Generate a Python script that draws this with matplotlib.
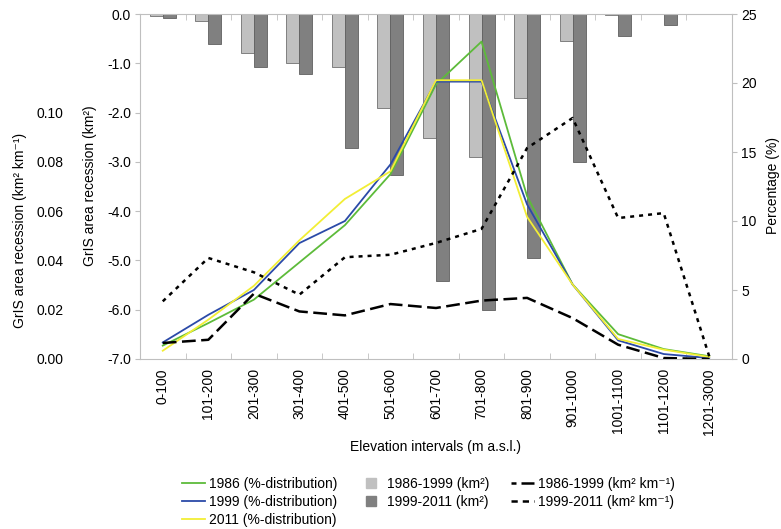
import numpy as np
import matplotlib
matplotlib.use('Agg')
import matplotlib.pyplot as plt
from matplotlib.lines import Line2D
from matplotlib.ticker import FormatStrFormatter

plt.rcParams['font.family'] = ['Liberation Sans', 'DejaVu Sans']
plt.rcParams['font.size'] = 10

# elevation intervals
cats = ['0-100', '101-200', '201-300', '301-400', '401-500', '501-600', '601-700',
        '701-800', '801-900', '901-1000', '1001-1100', '1101-1200', '1201-3000']

# area recession per interval (km2), left axis
rec_86_99 = [-0.05, -0.15, -0.80, -0.99, -1.08, -1.91, -2.52, -2.91, -1.70, -0.55, -0.03, 0.0, 0.0]
rec_99_11 = [-0.08, -0.60, -1.08, -1.22, -2.72, -3.26, -5.41, -6.00, -4.95, -3.01, -0.44, -0.22, 0.0]

# %-distribution of glacier area, right axis
pct_1986 = [0.97, 2.6, 4.3, 7.0, 9.7, 13.4, 19.9, 23.0, 11.8, 5.4, 1.8, 0.72, 0.2]
pct_1999 = [1.2, 3.2, 5.0, 8.4, 10.0, 14.1, 20.1, 20.1, 11.2, 5.4, 1.35, 0.36, 0.07]
pct_2011 = [0.6, 2.85, 5.3, 8.6, 11.6, 13.6, 20.2, 20.2, 10.3, 5.4, 1.45, 0.68, 0.15]

# recession per km of ice margin (km2 km-1), far left axis
rate_86_99 = [0.0065, 0.0078, 0.0265, 0.0193, 0.0177, 0.0223, 0.0207, 0.0237, 0.0248, 0.0166, 0.0058, 0.0004, 0.0]
rate_99_11 = [0.0234, 0.041, 0.0352, 0.0261, 0.0413, 0.0423, 0.0471, 0.0528, 0.0856, 0.0978, 0.0572, 0.0592, 0.0011]

W, H = 781, 529
fig = plt.figure(figsize=(W / 100, H / 100), dpi=100)
ax = fig.add_axes([140 / W, 1 - 359 / H, 592 / W, 345 / H])

x = np.arange(len(cats))
spine_col = '#bfbfbf'
bw = 0.285

ax.bar(x - bw / 2, rec_86_99, bw, color='#c0c0c0', edgecolor='#707070', linewidth=0.6)
ax.bar(x + bw / 2, rec_99_11, bw, color='#808080', edgecolor='#606060', linewidth=0.6)
ax.set_ylim(-7, 0)
ax.set_xlim(-0.5, len(cats) - 0.5)
ax.set_yticks(np.arange(-7, 0.1, 1))
ax.yaxis.set_major_formatter(FormatStrFormatter('%.1f'))
ax.set_xticks(x)
ax.set_xticklabels(cats, rotation=90)
ax.set_xticks(np.arange(-0.5, len(cats)), minor=True)
ax.tick_params(axis='x', which='major', length=0, pad=6.5)
ax.tick_params(axis='x', which='minor', direction='in', length=4, color=spine_col, top=True)
ax.tick_params(axis='y', length=3.5, color=spine_col, pad=3)
for s in ['left', 'top', 'bottom']:
    ax.spines[s].set_color(spine_col)
ax.spines['right'].set_visible(False)
ax.set_xlabel('Elevation intervals (m a.s.l.)', va='center')
ax.xaxis.set_label_coords(0.5, -(447 - 359) / 345)

# percentage axis (right)
ax2 = ax.twinx()
ax2.plot(x, pct_1986, color='#5dbb3a', lw=1.3)
ax2.plot(x, pct_1999, color='#2b4aa8', lw=1.3)
ax2.plot(x, pct_2011, color='#f2ee35', lw=1.3)
ax2.set_ylim(0, 25)
ax2.set_yticks(range(0, 26, 5))
ax2.tick_params(axis='y', length=3.5, color=spine_col, pad=3)
for s in ['left', 'top', 'bottom']:
    ax2.spines[s].set_visible(False)
ax2.spines['right'].set_color(spine_col)

# km2 km-1 axis (far left, labels only)
ax3 = ax.twinx()
ax3.plot(x, rate_86_99, color='black', lw=1.8, ls=(0, (5.5, 2.2)))
ax3.plot(x, rate_99_11, color='black', lw=1.8, ls=(0, (1.6, 2.0)))
ax3.set_ylim(0, 0.14)
ax3.set_yticks(np.arange(0, 0.101, 0.02))
ax3.yaxis.set_major_formatter(FormatStrFormatter('%.2f'))
ax3.yaxis.set_ticks_position('left')
ax3.spines['left'].set_position(('axes', -72 / 592))
for s in ax3.spines:
    ax3.spines[s].set_visible(False)
ax3.tick_params(axis='y', length=0, pad=3)

# axis titles
fig.text(90 / W, 1 - 186 / H, 'GrIS area recession (km²)', rotation=90, ha='center', va='center')
fig.text(20 / W, 1 - 230 / H, 'GrIS area recession (km² km⁻¹)', rotation=90, ha='center', va='center')
fig.text(773 / W, 1 - 186 / H, 'Percentage (%)', rotation=90, ha='center', va='center')

handles = [
    Line2D([], [], color='#5dbb3a', lw=1.3),
    Line2D([], [], color='#2b4aa8', lw=1.3),
    Line2D([], [], color='#f2ee35', lw=1.3),
    Line2D([], [], marker='s', ls='none', ms=7, color='#c0c0c0'),
    Line2D([], [], marker='s', ls='none', ms=7, color='#808080'),
    Line2D([], [], color='black', lw=1.8, ls=(0, (2, 2, 8, 0))),
    Line2D([], [], color='black', lw=1.8, ls=(0, (2.5, 2))),
]
labels = ['1986 (%-distribution)', '1999 (%-distribution)', '2011 (%-distribution)',
          '1986-1999 (km²)', '1999-2011 (km²)',
          '1986-1999 (km² km⁻¹)', '1999-2011 (km² km⁻¹)']
fig.legend(handles, labels, ncol=3, frameon=False, loc='upper left',
           bbox_to_anchor=(182 / W, 1 - 477 / H), borderpad=0, borderaxespad=0,
           handlelength=1.65, columnspacing=1.6, labelspacing=0.3, handletextpad=0.3)

fig.savefig('out.png', dpi=100)
